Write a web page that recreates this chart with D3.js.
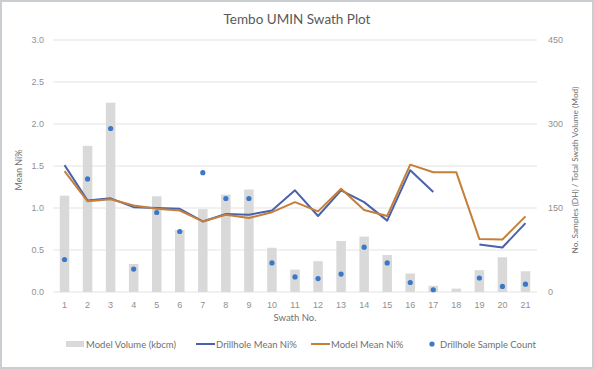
<!DOCTYPE html>
<html>
<head>
<meta charset="utf-8">
<script src="https://cdn.jsdelivr.net/npm/d3@7"></script>
<style>
  body { margin: 0; background: #fff; }
  svg { font-family: "Lato", "DejaVu Sans", sans-serif; }
</style>
</head>
<body>
<svg id="chart" width="594" height="369"></svg>
<script>
// data
const swaths = ["1","2","3","4","5","6","7","8","9","10","11","12","13","14","15","16","17","18","19","20","21"];
const modelVolume = [172, 261, 338, 50, 171, 111, 148, 174, 183, 79, 40, 55, 91, 99, 66, 33, 11, 6, 39, 62, 37];
const sampleCount = [58, 202, 292, 41, 142, 108, 213, 167, 167, 52, 27, 24, 32, 80, 52, 17, 4, null, 25, 10, 14];
const dhMean = [1.51, 1.09, 1.115, 1.01, 1.0, 0.99, 0.84, 0.93, 0.92, 0.97, 1.21, 0.905, 1.21, 1.07, 0.85, 1.45, 1.19, null, 0.565, 0.53, 0.82];
const modelMean = [1.44, 1.08, 1.105, 1.03, 0.99, 0.97, 0.84, 0.92, 0.88, 0.95, 1.07, 0.96, 1.23, 0.976, 0.905, 1.516, 1.425, 1.425, 0.63, 0.625, 0.90];
const leftTicks = [0, 0.5, 1.0, 1.5, 2.0, 2.5, 3.0];
const rightTicks = [0, 150, 300, 450];

const svg = d3.select("#chart");
const W = 594, H = 369;
const m = {left: 53, right: 57, top: 40, bottom: 77};
const pw = W - m.left - m.right, ph = H - m.top - m.bottom;

// frame
svg.append("rect").attr("x", 1).attr("y", 1).attr("width", W - 2).attr("height", H - 2)
    .attr("fill", "#fff").attr("stroke", "#c9ced3").attr("stroke-width", 2);

const x = d3.scaleBand().domain(swaths).range([m.left, m.left + pw]);
const yL = d3.scaleLinear().domain([0, 3]).range([m.top + ph, m.top]);
const yR = d3.scaleLinear().domain([0, 450]).range([m.top + ph, m.top]);

// gridlines
svg.append("g").selectAll("line").data(leftTicks).enter().append("line")
    .attr("x1", m.left).attr("x2", m.left + pw)
    .attr("y1", d => yL(d)).attr("y2", d => yL(d))
    .attr("stroke", "#e3e3e3").attr("stroke-width", 1);

// axes
let axL = svg.append("g").attr("transform", `translate(${m.left - 6},0)`)
    .call(d3.axisLeft(yL).tickValues(leftTicks).tickFormat(d3.format(".1f")).tickSize(0));
let axR = svg.append("g").attr("transform", `translate(${m.left + pw + 8},0)`)
    .call(d3.axisRight(yR).tickValues(rightTicks).tickSize(0));
let axB = svg.append("g").attr("transform", `translate(0,${m.top + ph + 7})`)
    .call(d3.axisBottom(x).tickSize(0));
[axL, axR, axB].forEach(a => {
    a.select(".domain").remove();
    a.selectAll("text").attr("fill", "#909090").style("font-size", "9px");
});

// bars
const bw = 9.5;
svg.append("g").selectAll("rect").data(swaths).enter().append("rect")
    .attr("x", d => x(d) + x.bandwidth() / 2 - bw / 2)
    .attr("width", bw)
    .attr("y", (d, i) => yR(modelVolume[i]))
    .attr("height", (d, i) => yR(0) - yR(modelVolume[i]))
    .attr("fill", "#d9d9d9");

// lines
const cx = d => x(d) + x.bandwidth() / 2;
let mkLine = (vals, color) => {
    let line = d3.line()
        .defined((d, i) => vals[i] != null)
        .x(d => cx(d))
        .y((d, i) => yL(vals[i]));
    svg.append("path").datum(swaths).attr("d", line)
        .attr("fill", "none").attr("stroke", color).attr("stroke-width", 2)
        .attr("stroke-linejoin", "round");
}
mkLine(dhMean, "#4a62ae");
mkLine(modelMean, "#c47f3a");

// dots
svg.append("g").selectAll("circle").data(swaths.filter((d, i) => sampleCount[i] != null)).enter().append("circle")
    .attr("cx", d => cx(d))
    .attr("cy", d => yR(sampleCount[swaths.indexOf(d)]))
    .attr("r", 2.6)
    .attr("fill", "#3b78c8");

// titles
svg.append("text").attr("x", 297).attr("y", 24).attr("text-anchor", "middle")
    .attr("fill", "#595959").style("font-size", "13.5px").text("Tembo UMIN Swath Plot");
svg.append("text").attr("x", 295).attr("y", 321).attr("text-anchor", "middle")
    .attr("fill", "#707070").style("font-size", "9.5px").text("Swath No.");
svg.append("text").attr("transform", "translate(22,170) rotate(-90)").attr("text-anchor", "middle")
    .attr("fill", "#707070").style("font-size", "9px").text("Mean Ni%");
svg.append("text").attr("transform", "translate(578,170) rotate(-90)").attr("text-anchor", "middle")
    .attr("fill", "#707070").style("font-size", "8.3px").text("No. Samples (DH) / Total Swath Volume (Mod)");

// legend
let lg = svg.append("g").style("font-size", "9.5px").attr("fill", "#707070");
lg.append("rect").attr("x", 66).attr("y", 341).attr("width", 18).attr("height", 6).attr("fill", "#d9d9d9");
lg.append("text").attr("x", 86).attr("y", 348).text("Model Volume (kbcm)");
lg.append("line").attr("x1", 196).attr("x2", 215).attr("y1", 344).attr("y2", 344).attr("stroke", "#4a62ae").attr("stroke-width", 2);
lg.append("text").attr("x", 216).attr("y", 348).text("Drillhole Mean Ni%");
lg.append("line").attr("x1", 311).attr("x2", 330).attr("y1", 344).attr("y2", 344).attr("stroke", "#c47f3a").attr("stroke-width", 2);
lg.append("text").attr("x", 331).attr("y", 348).text("Model Mean Ni%");
lg.append("circle").attr("cx", 432).attr("cy", 344).attr("r", 2.6).attr("fill", "#3b78c8");
lg.append("text").attr("x", 440).attr("y", 348).text("Drillhole Sample Count");
</script>
</body>
</html>
